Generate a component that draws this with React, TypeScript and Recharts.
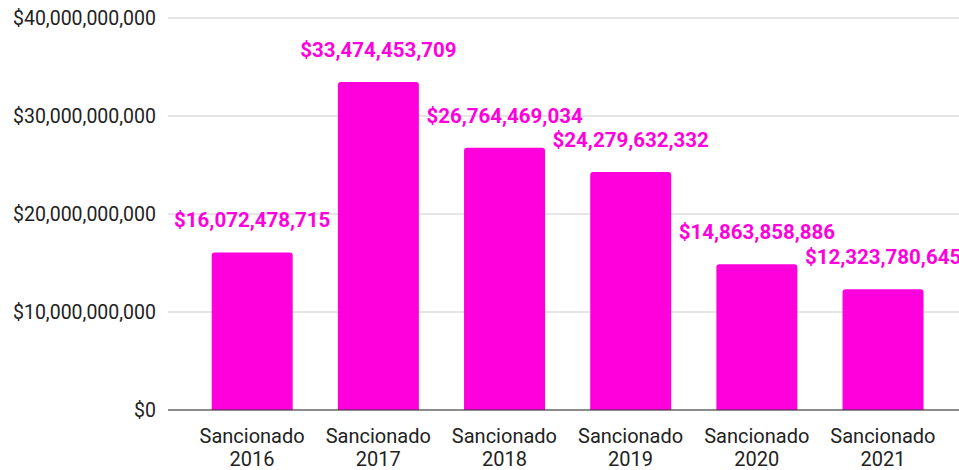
import React from 'react';
import { BarChart, Bar, XAxis, YAxis, CartesianGrid, LabelList } from 'recharts';

const categories = ['2016', '2017', '2018', '2019', '2020', '2021'];
const sancionado = [16072478715, 33474453709, 26764469034, 24279632332, 14863858886, 12323780645];
const yTicks = [0, 10000000000, 20000000000, 30000000000, 40000000000];

const data = categories.map((year, i) => ({ year, value: sancionado[i] }));

const PINK = '#ff00dd';
const FONT = 'Roboto, "Noto Sans", sans-serif';

const money = (v: number) => '$' + v.toLocaleString('en-US');

const XTick = ({ x, y, payload }: any) => (
  <g transform={`translate(${x},${y})`}>
    <text textAnchor="middle" fontFamily={FONT} fontSize={20} fill="#222">
      <tspan x={0} dy={25}>Sancionado</tspan>
      <tspan x={0} dy={23}>{payload.value}</tspan>
    </text>
  </g>
);

const ValueLabel = ({ x, y, width, value }: any) => (
  <text
    x={x + width / 2}
    y={y - 25}
    textAnchor="middle"
    fontFamily={FONT}
    fontSize={20.5}
    fontWeight="bold"
    fill={PINK}
  >
    {money(value)}
  </text>
);

export default function App() {
  if (typeof document !== 'undefined') document.body.style.margin = '0';
  return (
    <div style={{ width: 959, height: 470, background: '#fff' }}>
      <BarChart
        width={959}
        height={470}
        data={data}
        margin={{ top: 18, right: 0, bottom: 0, left: 0 }}
        barCategoryGap="18%"
      >
        <CartesianGrid vertical={false} stroke="#cccccc" />
        <XAxis
          dataKey="year"
          height={60}
          tick={<XTick />}
          tickLine={false}
          axisLine={{ stroke: '#333' }}
          padding={{ left: 21, right: 13 }}
          interval={0}
        />
        <YAxis
          width={168}
          domain={[0, 40000000000]}
          ticks={yTicks}
          tickFormatter={money}
          tickLine={false}
          axisLine={false}
          tickSize={0}
          tickMargin={12}
          tick={{ fontFamily: FONT, fontSize: 19.5, fill: '#222' }}
        />
        <Bar dataKey="value" fill={PINK} radius={[3, 3, 0, 0]} isAnimationActive={false}>
          <LabelList dataKey="value" content={<ValueLabel />} />
        </Bar>
      </BarChart>
    </div>
  );
}
